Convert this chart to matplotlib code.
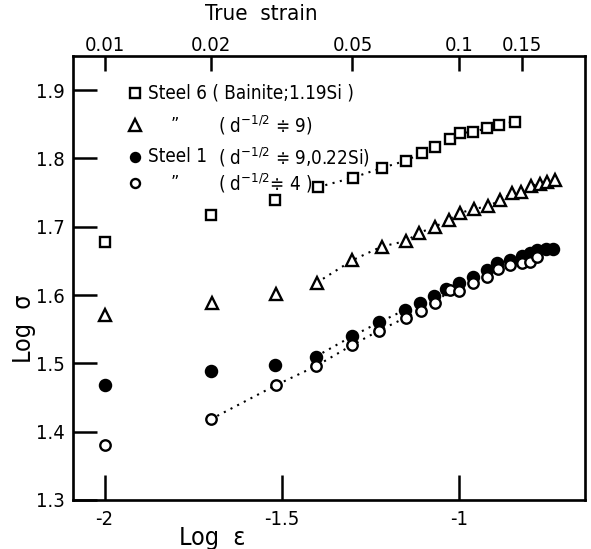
import matplotlib
matplotlib.use("Agg")
import matplotlib.pyplot as plt

#----data----#
# Steel 6 (bainite, 1.19Si) - squares
sq_x = [-2.0, -1.70, -1.52, -1.398, -1.299, -1.219, -1.149, -1.106, -1.069,
        -1.027, -0.999, -0.961, -0.923, -0.888, -0.844]
sq_y = [1.678, 1.717, 1.739, 1.758, 1.772, 1.786, 1.797, 1.808, 1.817,
        1.828, 1.837, 1.839, 1.844, 1.849, 1.854]

# Steel 6 (d^-1/2 ~ 9) - triangles
tri_x = [-2.0, -1.698, -1.517, -1.402, -1.301, -1.219, -1.151, -1.113, -1.069,
         -1.030, -0.999, -0.959, -0.919, -0.884, -0.850, -0.825, -0.797, -0.773,
         -0.753, -0.731]
tri_y = [1.571, 1.589, 1.602, 1.618, 1.651, 1.671, 1.679, 1.691, 1.700,
         1.710, 1.720, 1.726, 1.730, 1.739, 1.749, 1.751, 1.760, 1.763,
         1.765, 1.768]

# Steel 1 (d^-1/2 ~ 9, 0.22Si) - filled circles
fc_x = [-2.0, -1.70, -1.52, -1.404, -1.301, -1.226, -1.154, -1.111, -1.072,
        -1.036, -1.001, -0.961, -0.922, -0.893, -0.856, -0.822, -0.801, -0.781,
        -0.754, -0.736]
fc_y = [1.468, 1.489, 1.498, 1.510, 1.540, 1.560, 1.578, 1.589, 1.599,
        1.609, 1.618, 1.627, 1.637, 1.647, 1.651, 1.657, 1.661, 1.666,
        1.667, 1.668]

# Steel 1 (d^-1/2 ~ 4) - open circles
oc_x = [-2.0, -1.701, -1.517, -1.404, -1.301, -1.226, -1.151, -1.109, -1.069,
        -1.025, -1.001, -0.961, -0.922, -0.891, -0.856, -0.822, -0.801, -0.781]
oc_y = [1.380, 1.418, 1.468, 1.496, 1.527, 1.548, 1.567, 1.577, 1.589,
        1.607, 1.606, 1.617, 1.626, 1.638, 1.644, 1.647, 1.649, 1.655]

# where the dotted line starts for each series
sq_start, tri_start, fc_start, oc_start = 3, 3, 3, 1

x_ticks = [-2, -1.5, -1]
x_labels = ["-2", "-1.5", "-1"]
y_ticks = [1.3, 1.4, 1.5, 1.6, 1.7, 1.8, 1.9]
y_labels = ["1.3", "1.4", "1.5", "1.6", "1.7", "1.8", "1.9"]
top_ticks = [-2.0, -1.69897, -1.30103, -1.0, -0.82391]
top_labels = ["0.01", "0.02", "0.05", "0.1", "0.15"]

#----look----#
fam = ["DejaVu Sans"]
plt.rcParams["font.family"] = fam
plt.rcParams["font.stretch"] = "condensed"
plt.rcParams["mathtext.fontset"] = "dejavusans"

fig = plt.figure(figsize=(5.91, 5.49), dpi=100)
ax = fig.add_axes([0.1235, 0.0893, 0.866, 0.8087])

dot = (0, (1, 2.6))
ms = dict(markeredgewidth=1.7, markeredgecolor="black", linestyle="none", zorder=3)

# dotted lines
ax.plot(sq_x[sq_start:], sq_y[sq_start:], color="black", lw=1.5, ls=dot, zorder=2)
ax.plot(tri_x[tri_start:], tri_y[tri_start:], color="black", lw=1.5, ls=dot, zorder=2)
ax.plot(fc_x[fc_start:], fc_y[fc_start:], color="black", lw=1.5, ls=dot, zorder=2)
ax.plot(oc_x[oc_start:], oc_y[oc_start:], color="black", lw=1.5, ls=dot, zorder=2)

# markers
ax.plot(sq_x, sq_y, marker="s", markersize=7.5, markerfacecolor="white", **ms)
ax.plot(tri_x, tri_y, marker="^", markersize=8.5, markerfacecolor="white", **ms)
ax.plot(fc_x, fc_y, marker="o", markersize=8, markerfacecolor="black", **ms)
ax.plot(oc_x, oc_y, marker="o", markersize=7.5, markerfacecolor="white", **ms)

ax.set_xlim(-2.089, -0.646)
ax.set_ylim(1.3, 1.95)

ax.set_xticks(x_ticks)
ax.set_xticklabels(x_labels)
ax.set_yticks(y_ticks)
ax.set_yticklabels(y_labels)
ax.tick_params(axis="x", direction="in", length=18, width=1.8, pad=7, labelsize=14.5)
ax.tick_params(axis="y", direction="in", length=17, width=1.8, pad=6, labelsize=14.5)
for s in ax.spines.values():
    s.set_linewidth(1.9)

# top axis: true strain
top = ax.twiny()
top.set_xlim(ax.get_xlim())
top.set_xticks(top_ticks)
top.set_xticklabels(top_labels)
top.tick_params(axis="x", direction="in", length=11, width=1.8, pad=1, labelsize=14.5)
top.text(0.367, 1.072, "True  strain", transform=ax.transAxes, ha="center",
         va="bottom", fontsize=16)

ax.text(0.272, -0.086, "Log  ε", transform=ax.transAxes, ha="center", va="center",
        fontsize=18)
ax.text(-0.095, 0.385, "Log  σ", transform=ax.transAxes, ha="center", va="center",
        rotation=90, fontsize=18)

#----legend written out as in the figure----#
legend_rows = [
    ("s", "white", 6.5, "Steel 6 ( Bainite;1.19Si )", None),
    ("^", "white", 8, "\u201d", "( d$^{-1/2}$ \u2251 9)"),
    ("o", "black", 6.5, "Steel 1", "( d$^{-1/2}$ \u2251 9,0.22Si)"),
    ("o", "white", 6.5, "\u201d", "( d$^{-1/2}$\u2251 4 )"),
]
row_y = [0.917, 0.845, 0.773, 0.714]
for (mk, fc, size, name, note), yy in zip(legend_rows, row_y):
    ax.plot([0.121], [yy], transform=ax.transAxes, marker=mk, markersize=size,
            markerfacecolor=fc, markeredgecolor="black", markeredgewidth=1.7,
            linestyle="none", clip_on=False)
    if name == "\u201d":
        ax.text(0.199, yy, name, transform=ax.transAxes, ha="center",
                va="center", fontsize=13)
    else:
        ax.text(0.146, yy, name, transform=ax.transAxes, ha="left", va="center",
                fontsize=13.5)
    if note:
        ax.text(0.283, yy, note, transform=ax.transAxes, ha="left", va="center",
                fontsize=13.5)

fig.savefig("out.png", dpi=100)
